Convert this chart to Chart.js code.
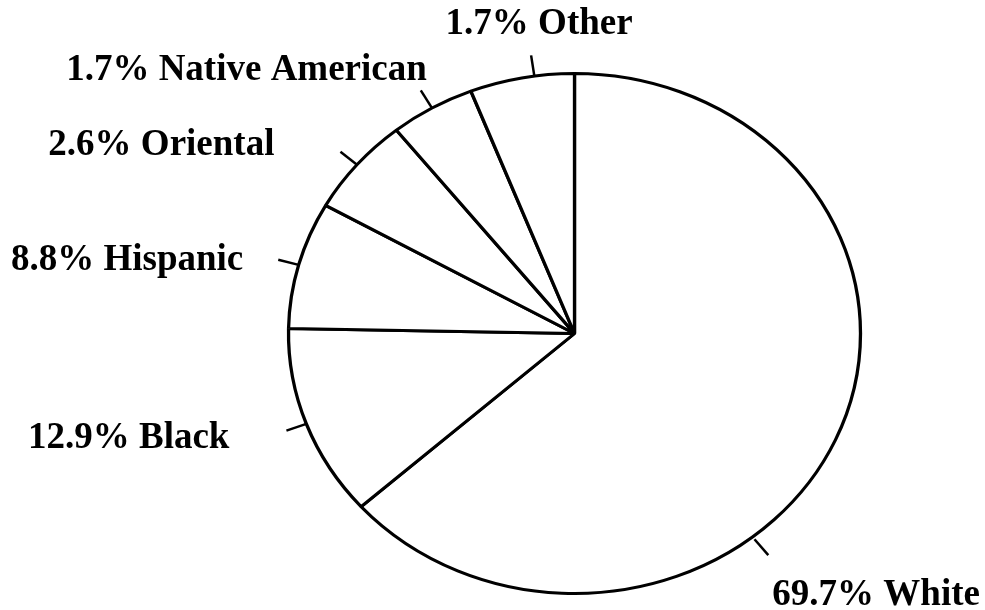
<!DOCTYPE html>
<html>
<head>
<meta charset="utf-8">
<script src="https://cdn.jsdelivr.net/npm/chart.js@4.4.1/dist/chart.umd.min.js"></script>
<style>
  body { margin: 0; background: #fff; }
  #wrap { width: 985px; height: 610px; }
</style>
</head>
<body>
<div id="wrap"><canvas id="pie" width="985" height="610"></canvas></div>
<script>
// categories, clockwise from 12 o'clock
const categories = ['White', 'Black', 'Hispanic', 'Oriental', 'Native American', 'Other'];
// percentages printed on the labels
const statedPercent = [69.7, 12.9, 8.8, 2.6, 1.7, 1.7];
// share of the circle each slice actually takes in the drawing (%)
const drawnShare = [63.4, 11.9, 7.9, 6.1, 4.8, 5.9];

// the printed pie is a bit wider than tall
const SX = 1.1;

// where each tick sits along its slice and where its text goes from the tick end
const labelStyle = [
  { frac: 0.62, gap: 3, align: 'left',   dx: 4,   dy: 50 },
  { frac: 0.5,  gap: 0, align: 'right',  dx: -57, dy: 17 },
  { frac: 0.5,  gap: 0, align: 'right',  dx: -35, dy: 10 },
  { frac: 0.5,  gap: 0, align: 'right',  dx: -66, dy: 3 },
  { frac: 0.5,  gap: 0, align: 'right',  dx: 6,   dy: -10 },
  { frac: 0.62, gap: 0, align: 'center', dx: 8,   dy: -21 }
];

const stretch = {
  id: 'stretch',
  beforeDatasetsDraw(chart) {
    const a = chart.getDatasetMeta(0).data[0];
    const ctx = chart.ctx;
    ctx.save();
    ctx.translate(a.x, a.y);
    ctx.scale(SX, 1);
    ctx.translate(-a.x, -a.y);
  },
  afterDatasetsDraw(chart) {
    chart.ctx.restore();
  }
};

const ticksAndText = {
  id: 'ticksAndText',
  afterDraw(chart) {
    const ctx = chart.ctx;
    const arcs = chart.getDatasetMeta(0).data;
    ctx.save();
    ctx.strokeStyle = '#000';
    ctx.fillStyle = '#000';
    ctx.lineWidth = 2.5;
    ctx.font = 'bold 37px "Liberation Serif", "DejaVu Serif", serif';
    ctx.textBaseline = 'alphabetic';
    arcs.forEach(function(el, i) {
      const st = labelStyle[i];
      const a = el.startAngle + st.frac * (el.endAngle - el.startAngle);
      const ex = el.outerRadius * Math.cos(a) * SX;
      const ey = el.outerRadius * Math.sin(a);
      const len = Math.hypot(ex, ey);
      const ux = ex / len, uy = ey / len;
      const x0 = el.x + ex + ux * st.gap, y0 = el.y + ey + uy * st.gap;
      const x1 = x0 + ux * 21, y1 = y0 + uy * 21;
      ctx.beginPath();
      ctx.moveTo(x0, y0);
      ctx.lineTo(x1, y1);
      ctx.stroke();
      ctx.textAlign = st.align;
      ctx.fillText(statedPercent[i].toFixed(1) + '% ' + categories[i], x1 + st.dx, y1 + st.dy);
    });
    ctx.restore();
  }
};

let pieCtx = document.getElementById('pie').getContext('2d');
let pieChart = new Chart(pieCtx, {
  type: 'pie',
  data: {
    labels: categories,
    datasets: [{
      data: drawnShare,
      backgroundColor: '#fff',
      borderColor: '#000',
      borderWidth: 3,
      hoverOffset: 0,
      offset: 0
    }]
  },
  options: {
    responsive: false,
    animation: false,
    events: [],
    layout: { padding: { left: 313, right: 149, top: 72, bottom: 15 } },
    plugins: {
      legend: { display: false },
      tooltip: { enabled: false }
    }
  },
  plugins: [stretch, ticksAndText]
});
</script>
</body>
</html>
